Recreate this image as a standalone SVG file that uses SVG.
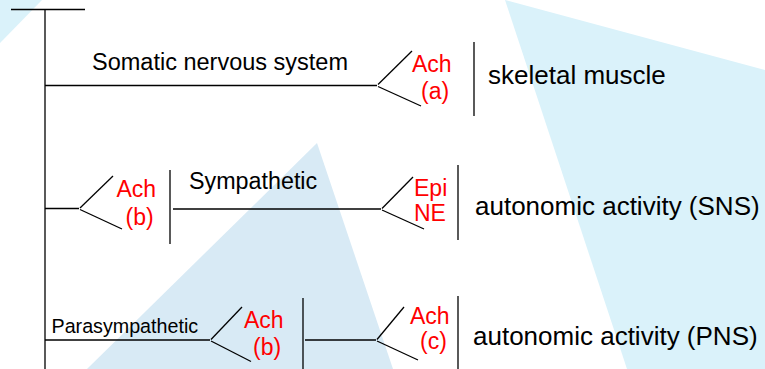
<svg xmlns="http://www.w3.org/2000/svg" width="765" height="369" viewBox="0 0 765 369">
  <style>
    .ln { stroke: #000; stroke-width: 1.3; fill: none; }
    .lbl { font-family: "Liberation Sans", Arial, sans-serif; fill: #000; }
    .nt { font-family: "Liberation Sans", Arial, sans-serif; fill: #ff0000; font-size: 23px; }
  </style>

  <!-- background wedges -->
  <rect width="765" height="369" fill="#fff"/>
  <polygon points="0,0 42,0 0,43" fill="#daf2fa"/>
  <polygon points="317,143 87,369 393,369" fill="#d8eaf5"/>
  <polygon points="505,0 765,70 765,369 627,369" fill="#daf2fa"/>

  <!-- nerve pathways -->
  <g id="connectors" class="ln">
    <!-- trunk -->
    <line x1="11" y1="9.5" x2="85" y2="9.5"/>
    <line x1="45" y1="9.5" x2="45" y2="369"/>
    <!-- somatic -->
    <line x1="45" y1="85.5" x2="377" y2="85.5"/>
    <polyline points="412,51 378,84.5"/>
    <polyline points="378,86.5 421,106"/>
    <!-- sympathetic -->
    <line x1="45" y1="208.5" x2="79" y2="208.5"/>
    <polyline points="113,176 80,208"/>
    <polyline points="80,209.5 122,229"/>
    <line x1="173" y1="209" x2="381" y2="209"/>
    <polyline points="413,177 382,208.5"/>
    <polyline points="382,210 424,229"/>
    <!-- parasympathetic -->
    <line x1="45" y1="340" x2="210" y2="340"/>
    <polyline points="242,307 211,339.5"/>
    <polyline points="211,341 251,361.5"/>
    <line x1="305" y1="340" x2="376" y2="340"/>
    <polyline points="404,307 377,339.5"/>
    <polyline points="377,341 418,360"/>
  </g>

  <g id="somatic">
    <text class="lbl" x="92" y="70" font-size="23.5">Somatic nervous system</text>
    <text class="nt" x="412" y="72">Ach</text>
    <text class="nt" x="421" y="99">(a)</text>
    <line class="ln" x1="474" y1="42" x2="474" y2="116"/>
    <text class="lbl" x="488" y="83.5" font-size="26">skeletal muscle</text>
  </g>

  <g id="sympathetic">
    <text class="nt" x="116.5" y="196.5">Ach</text>
    <text class="nt" x="125.5" y="225">(b)</text>
    <line class="ln" x1="170" y1="170" x2="170" y2="244"/>
    <text class="lbl" x="189" y="188.5" font-size="23.3">Sympathetic</text>
    <text class="nt" x="414" y="196">Epi</text>
    <text class="nt" x="414" y="221">NE</text>
    <line class="ln" x1="458" y1="165" x2="458" y2="240"/>
    <text class="lbl" x="475" y="214.5" font-size="26">autonomic activity (SNS)</text>
  </g>

  <g id="parasympathetic">
    <text class="lbl" x="51.5" y="333" font-size="19.7">Parasympathetic</text>
    <text class="nt" x="244" y="327.5">Ach</text>
    <text class="nt" x="253" y="355">(b)</text>
    <line class="ln" x1="303" y1="298" x2="303" y2="369"/>
    <text class="nt" x="410" y="323.5">Ach</text>
    <text class="nt" x="420" y="349">(c)</text>
    <line class="ln" x1="458" y1="296" x2="458" y2="369"/>
    <text class="lbl" x="473" y="344.5" font-size="26">autonomic activity (PNS)</text>
  </g>
</svg>
